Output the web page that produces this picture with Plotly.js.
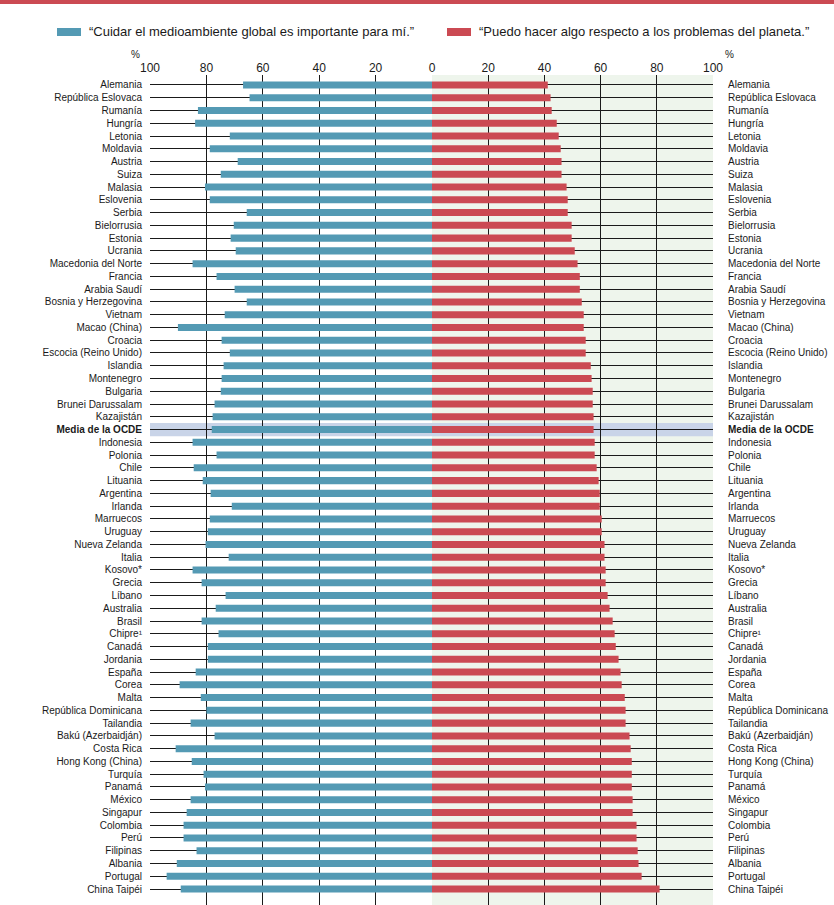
<!DOCTYPE html>
<html>
<head>
<meta charset="utf-8">
<script src="https://cdn.plot.ly/plotly-3.0.1.min.js"></script>
<style>html,body{margin:0;padding:0;background:#fff;}#chart{width:834px;height:905px;}</style>
</head>
<body>
<div id="chart"></div>
<script>
const countries = ["Alemania","República Eslovaca","Rumanía","Hungría","Letonia","Moldavia","Austria","Suiza","Malasia","Eslovenia","Serbia","Bielorrusia","Estonia","Ucrania","Macedonia del Norte","Francia","Arabia Saudí","Bosnia y Herzegovina","Vietnam","Macao (China)","Croacia","Escocia (Reino Unido)","Islandia","Montenegro","Bulgaria","Brunei Darussalam","Kazajistán","Media de la OCDE","Indonesia","Polonia","Chile","Lituania","Argentina","Irlanda","Marruecos","Uruguay","Nueva Zelanda","Italia","Kosovo*","Grecia","Líbano","Australia","Brasil","Chipre¹","Canadá","Jordania","España","Corea","Malta","República Dominicana","Tailandia","Bakú (Azerbaidján)","Costa Rica","Hong Kong (China)","Turquía","Panamá","México","Singapur","Colombia","Perú","Filipinas","Albania","Portugal","China Taipéi"];

const importante = [67.0,64.7,83.0,84.0,71.7,78.8,68.9,74.9,80.5,78.8,65.7,70.3,71.4,69.6,84.9,76.4,70.0,65.7,73.5,90.1,74.6,71.7,73.9,74.6,74.9,77.1,77.8,78.1,84.9,76.4,84.5,81.3,78.5,71.0,78.8,79.5,80.3,72.1,84.9,81.7,73.2,76.7,81.7,75.7,79.5,79.5,83.8,89.5,82.0,80.0,85.6,77.1,90.9,85.2,81.0,80.5,85.6,87.0,88.1,88.1,83.5,90.5,94.1,89.1];

const puedo = [41.2,42.2,42.6,44.4,45.1,45.8,46.1,46.1,47.9,48.3,48.3,49.7,49.7,50.8,51.8,52.6,52.6,53.3,54.0,54.0,54.7,54.7,56.5,56.8,57.2,57.2,57.5,57.5,57.9,57.9,58.6,59.3,59.7,59.7,60.4,60.4,61.4,61.4,61.8,61.8,62.5,63.2,64.3,65.0,65.4,66.4,67.1,67.5,68.6,68.9,68.9,70.3,70.7,71.1,71.1,71.1,71.4,71.4,72.8,72.8,73.2,73.5,74.6,81.0];

const legendLabels = ["“Cuidar el medioambiente global es importante para mí.”","“Puedo hacer algo respecto a los problemas del planeta.”"];
const leftTicks = [100,80,60,40,20,0];
const rightTicks = [0,20,40,60,80,100];
const highlight = "Media de la OCDE";

const BLUE = "#549ab4", RED = "#cb4a53", GREEN = "#eef5ec", BAND = "#c9d4e8", GRID = "#1a1a1a";
const FONT = "Liberation Sans, Arial, sans-serif";

const labels = countries.map(c => c === highlight ? "<b>" + c + "</b>" : c);

const W = 834, H = 905;
const xL = [150/W, 432/W], xR = [432/W, 713/W];
const yDom = [0, 830/H];
const yRange = [64.25, -0.78];

const traces = [
  {type:"bar", orientation:"h", y:countries, x:importante, xaxis:"x", yaxis:"y",
   marker:{color:BLUE}, width:0.55, hoverinfo:"skip", showlegend:false, name:legendLabels[0]},
  {type:"bar", orientation:"h", y:countries, x:puedo, xaxis:"x2", yaxis:"y2",
   marker:{color:RED}, width:0.55, hoverinfo:"skip", showlegend:false, name:legendLabels[1]}
];

const hIdx = countries.indexOf(highlight);

const layout = {
  width:W, height:H,
  margin:{l:0,r:0,t:0,b:0},
  paper_bgcolor:"#fff", plot_bgcolor:"rgba(0,0,0,0)",
  font:{family:FONT, color:"#1a1a1a", size:10},
  xaxis:{domain:xL, range:[100,0], side:"top", tickvals:leftTicks, ticktext:leftTicks.map(String),
         showgrid:true, gridcolor:GRID, gridwidth:1, zeroline:false, showline:false, ticks:"",
         tickfont:{size:12, family:FONT}, anchor:"y", fixedrange:true},
  xaxis2:{domain:xR, range:[0,100], side:"top", tickvals:rightTicks, ticktext:rightTicks.map(v => v===0 ? "" : String(v)),
         showgrid:true, gridcolor:GRID, gridwidth:1, zeroline:false, showline:false, ticks:"",
         tickfont:{size:12, family:FONT}, anchor:"y2", fixedrange:true},
  yaxis:{domain:yDom, range:yRange, type:"category", tickvals:countries, ticktext:labels,
         showgrid:true, gridcolor:GRID, gridwidth:1, zeroline:false, showline:false,
         ticks:"outside", ticklen:5, tickcolor:"rgba(0,0,0,0)", tickfont:{size:10, family:FONT},
         anchor:"x", side:"left", fixedrange:true},
  yaxis2:{domain:yDom, range:yRange, type:"category", tickvals:countries, ticktext:labels,
         showgrid:true, gridcolor:GRID, gridwidth:1, zeroline:false, showline:false,
         ticks:"outside", ticklen:12, tickcolor:"rgba(0,0,0,0)", tickfont:{size:10, family:FONT},
         anchor:"x2", side:"right", fixedrange:true},
  shapes:[
    {type:"rect", xref:"x2 domain", yref:"y2 domain", x0:0, x1:1, y0:0, y1:1, fillcolor:GREEN, line:{width:0}, layer:"below"},
    {type:"rect", xref:"paper", yref:"y", x0:150/W, x1:713/W, y0:hIdx-0.52, y1:hIdx+0.52, fillcolor:BAND, line:{width:0}, layer:"below"},
    {type:"rect", xref:"paper", yref:"paper", x0:0, x1:1, y0:1-4/H, y1:1, fillcolor:RED, line:{width:0}},
    {type:"rect", xref:"paper", yref:"paper", x0:57/W, x1:81/W, y0:1-36/H, y1:1-28/H, fillcolor:BLUE, line:{width:0}},
    {type:"rect", xref:"paper", yref:"paper", x0:447/W, x1:471/W, y0:1-36/H, y1:1-28/H, fillcolor:RED, line:{width:0}}
  ],
  annotations:[
    {xref:"paper", yref:"paper", x:87/W, y:1-31.5/H, xanchor:"left", yanchor:"middle", text:legendLabels[0], showarrow:false, font:{size:13, family:FONT, color:"#1a1a1a"}},
    {xref:"paper", yref:"paper", x:477/W, y:1-31.5/H, xanchor:"left", yanchor:"middle", text:legendLabels[1], showarrow:false, font:{size:13, family:FONT, color:"#1a1a1a"}},
    {xref:"paper", yref:"paper", x:135/W, y:1-54/H, xanchor:"center", yanchor:"middle", text:"%", showarrow:false, font:{size:10, family:FONT, color:"#1a1a1a"}},
    {xref:"paper", yref:"paper", x:729/W, y:1-54/H, xanchor:"center", yanchor:"middle", text:"%", showarrow:false, font:{size:10, family:FONT, color:"#1a1a1a"}}
  ]
};

Plotly.newPlot("chart", traces, layout, {displayModeBar:false, staticPlot:true});
</script>
</body>
</html>
